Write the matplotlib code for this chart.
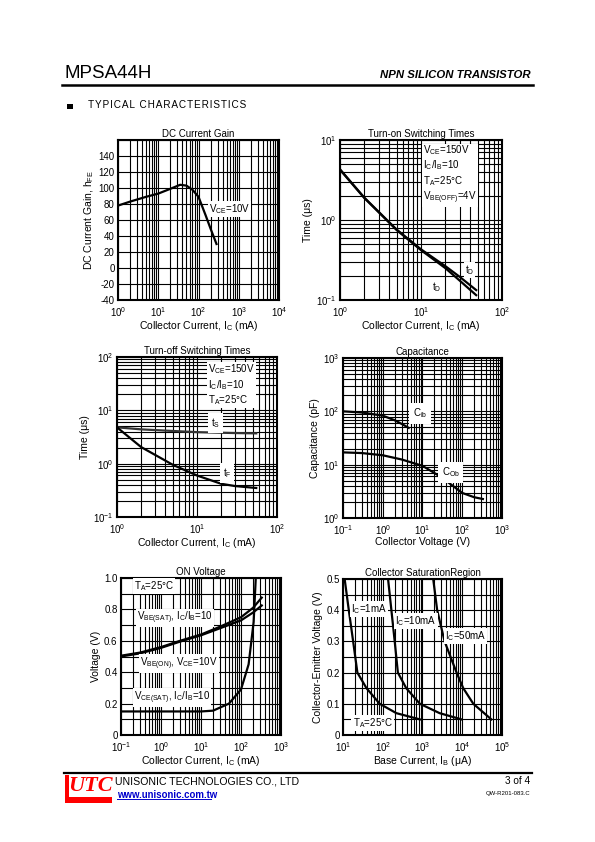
import matplotlib
matplotlib.use('Agg')
import matplotlib.pyplot as plt
from matplotlib.ticker import LogLocator, NullFormatter, FixedLocator, FixedFormatter
from matplotlib.patches import Rectangle

plt.rcParams['font.family'] = ['Liberation Sans', 'DejaVu Sans']
plt.rcParams['mathtext.fontset'] = 'custom'
plt.rcParams['mathtext.rm'] = 'Liberation Sans'
plt.rcParams['mathtext.it'] = 'Liberation Sans:italic'
plt.rcParams['mathtext.bf'] = 'Liberation Sans:bold'

# ---------------- data ----------------
# DC current gain
hfe_ic = [1, 2, 5, 10, 20, 35, 50, 70, 100, 150, 200, 280]
hfe_val = [78, 83, 89, 93, 99, 104, 103, 98, 89, 66, 49, 30]

# Turn-on switching times
ton_ic = [1, 2, 5, 10, 20, 30, 48]
ton_td_upper = [4.3, 1.9, 0.76, 0.43, 0.265, 0.195, 0.133]
ton_td_lower = [4.25, 1.88, 0.75, 0.42, 0.25, 0.175, 0.115]

# Turn-off switching times
toff_ic = [1, 2, 5, 10, 20, 30, 55]
toff_ts = [4.8, 4.4, 4.1, 3.9, 3.8, 3.75, 3.7]
toff_tf = [4.8, 2.05, 0.95, 0.6, 0.42, 0.38, 0.35]

# Capacitance
cib_v = [0.1, 0.3, 1, 2, 3, 4.5]
cib_val = [100, 95, 83, 68, 58, 49]
cob_v = [0.1, 0.3, 1, 3, 10, 30, 100, 200, 330]
cob_val = [17, 16.5, 15, 12.5, 9.5, 5.8, 2.95, 2.45, 2.27]

# ON voltage
on_ic = [0.1, 0.3, 1, 3, 10, 30, 100, 200, 330]
vbe_sat = [0.505, 0.525, 0.56, 0.6, 0.64, 0.69, 0.75, 0.81, 0.875]
vbe_on = [0.5, 0.52, 0.555, 0.595, 0.635, 0.68, 0.73, 0.78, 0.825]
vcesat_ic = [0.1, 1, 10, 20, 50, 100, 155, 207, 234]
vcesat_val = [0.15, 0.15, 0.15, 0.155, 0.2, 0.29, 0.45, 0.72, 1.0]

# Collector saturation region
ib_1ma = [11, 14, 18, 23, 39, 84, 220, 860]
vce_1ma = [0.5, 0.4, 0.3, 0.2, 0.15, 0.1, 0.07, 0.05]
ib_10ma = [136, 165, 200, 240, 390, 860, 2700, 9600]
vce_10ma = [0.5, 0.4, 0.3, 0.2, 0.15, 0.1, 0.07, 0.05]
ib_50ma = [1860, 2340, 3600, 7200, 10600, 19000, 54000]
vce_50ma = [0.5, 0.4, 0.3, 0.2, 0.15, 0.1, 0.05]

# ---------------- figure ----------------
W, H = 595, 842
fig = plt.figure(figsize=(W / 100, H / 100), dpi=100)

def make_ax(x0, y0, x1, y1):
    return fig.add_axes([x0 / W, 1 - y1 / H, (x1 - x0) / W, (y1 - y0) / H])

def ftext(x, y, s, **kw):
    return fig.text(x / W, 1 - y / H, s, **kw)

LW_GRID = 0.8
LW_CURVE = 1.6
FS = 7

def log_axis(axis, lo, hi):
    ticks = [10.0 ** k for k in range(lo, hi + 1)]
    axis.set_major_locator(FixedLocator(ticks))
    axis.set_major_formatter(FixedFormatter([r'$\mathregular{10^{%d}}$' % k for k in range(lo, hi + 1)]))
    axis.set_minor_locator(LogLocator(base=10, subs=range(2, 10), numticks=100))
    axis.set_minor_formatter(NullFormatter())

def style(ax, title, xlabel, ylabel):
    for s in ax.spines.values():
        s.set_linewidth(1.5)
    ax.tick_params(which='both', length=0, labelsize=FS)
    ax.tick_params(axis='x', pad=3.5)
    ax.tick_params(axis='y', pad=2.5)
    ax.grid(which='both', color='black', linewidth=LW_GRID)
    ax.set_axisbelow(True)
    ax.set_title(title, fontsize=FS, pad=2)
    ax.set_xlabel(xlabel, fontsize=FS + 0.5, labelpad=0.5)
    ax.set_ylabel(ylabel, fontsize=FS + 0.5, labelpad=2)

box = dict(facecolor='white', edgecolor='none', pad=0.8)
box2 = dict(facecolor='white', edgecolor='none', pad=2.2)
DEG = '°C'

# Panel 1: DC current gain
ax1 = make_ax(118, 140, 279, 300)
ax1.set_xscale('log')
ax1.set_xlim(1, 1e4)
ax1.set_ylim(-40, 160)
log_axis(ax1.xaxis, 0, 4)
ax1.yaxis.set_major_locator(FixedLocator(list(range(-40, 161, 20))))
ax1.yaxis.set_major_formatter(FixedFormatter([str(v) for v in range(-40, 141, 20)] + ['']))
ax1.plot(hfe_ic, hfe_val, color='black', lw=LW_CURVE)
ax1.text(0.565, 0.57, r'V$_{\mathrm{CE}}$=10V', fontsize=FS, transform=ax1.transAxes,
         bbox=box, va='center', ha='left')
style(ax1, 'DC Current Gain', r'Collector Current, I$_{\mathrm{C}}$ (mA)', r'DC Current Gain, h$_{\mathrm{FE}}$')

# Panel 2: Turn-on switching times
ax2 = make_ax(340, 140, 502, 300)
ax2.set_xscale('log'); ax2.set_yscale('log')
ax2.set_xlim(1, 100); ax2.set_ylim(0.1, 10)
log_axis(ax2.xaxis, 0, 2); log_axis(ax2.yaxis, -1, 1)
ax2.plot(ton_ic, ton_td_upper, color='black', lw=LW_CURVE)
ax2.plot(ton_ic, ton_td_lower, color='black', lw=LW_CURVE)
ax2.text(0.515, 0.98,
         'V$_{\\mathrm{CE}}$=150V\nI$_{\\mathrm{C}}$/I$_{\\mathrm{B}}$=10\nT$_{\\mathrm{A}}$=25' + DEG + '\nV$_{\\mathrm{BE(OFF)}}$=4V',
         transform=ax2.transAxes, fontsize=FS, va='top', ha='left', linespacing=1.15, bbox=box)
ax2.text(0.77, 0.19, r't$_{\mathrm{D}}$', transform=ax2.transAxes, fontsize=FS, bbox=box, va='center')
ax2.text(0.57, 0.08, r't$_{\mathrm{D}}$', transform=ax2.transAxes, fontsize=FS, va='center')
style(ax2, 'Turn-on Switching Times', r'Collector Current, I$_{\mathrm{C}}$ (mA)', 'Time (μs)')

# Panel 3: Turn-off switching times
ax3 = make_ax(117, 357, 277, 517)
ax3.set_xscale('log'); ax3.set_yscale('log')
ax3.set_xlim(1, 100); ax3.set_ylim(0.1, 100)
log_axis(ax3.xaxis, 0, 2); log_axis(ax3.yaxis, -1, 2)
ax3.plot(toff_ic, toff_ts, color='#333333', lw=LW_CURVE)
ax3.plot(toff_ic, toff_tf, color='black', lw=LW_CURVE)
ax3.text(0.57, 0.965,
         'V$_{\\mathrm{CE}}$=150V\nI$_{\\mathrm{C}}$/I$_{\\mathrm{B}}$=10\nT$_{\\mathrm{A}}$=25' + DEG,
         transform=ax3.transAxes, fontsize=FS, va='top', ha='left', linespacing=1.15, bbox=box)
ax3.text(0.59, 0.585, r't$_{\mathrm{S}}$', transform=ax3.transAxes, fontsize=FS, va='center', bbox=box2)
ax3.text(0.66, 0.275, r't$_{\mathrm{F}}$', transform=ax3.transAxes, fontsize=FS, va='center', bbox=box2)
style(ax3, 'Turn-off Switching Times', r'Collector Current, I$_{\mathrm{C}}$ (mA)', 'Time (μs)')

# Panel 4: Capacitance
ax4 = make_ax(343, 358, 502, 518)
ax4.set_xscale('log'); ax4.set_yscale('log')
ax4.set_xlim(0.1, 1000); ax4.set_ylim(1, 1000)
log_axis(ax4.xaxis, -1, 3); log_axis(ax4.yaxis, 0, 3)
ax4.plot(cib_v, cib_val, color='black', lw=LW_CURVE)
ax4.plot(cob_v, cob_val, color='black', lw=LW_CURVE)
ax4.text(0.44, 0.655, r'C$_{\mathrm{ib}}$', transform=ax4.transAxes, fontsize=FS, va='center',
         bbox=dict(facecolor='white', edgecolor='none', pad=2.5))
ax4.text(0.62, 0.285, r'C$_{\mathrm{Ob}}$', transform=ax4.transAxes, fontsize=FS, va='center',
         bbox=dict(facecolor='white', edgecolor='none', pad=2.5))
style(ax4, 'Capacitance', 'Collector Voltage (V)', 'Capacitance (pF)')

# Panel 5: ON voltage
ax5 = make_ax(121, 578, 281, 735)
ax5.set_xscale('log')
ax5.set_xlim(0.1, 1000); ax5.set_ylim(0, 1.0)
log_axis(ax5.xaxis, -1, 3)
ax5.yaxis.set_major_locator(FixedLocator([0, 0.2, 0.4, 0.6, 0.8, 1.0]))
ax5.yaxis.set_major_formatter(FixedFormatter(['0', '0.2', '0.4', '0.6', '0.8', '1.0']))
ax5.yaxis.set_minor_locator(FixedLocator([0.1, 0.3, 0.5, 0.7, 0.9]))
ax5.plot(on_ic, vbe_sat, color='black', lw=LW_CURVE)
ax5.plot(on_ic, vbe_on, color='black', lw=LW_CURVE)
ax5.plot(vcesat_ic, vcesat_val, color='black', lw=LW_CURVE)
ax5.text(0.08, 0.95, 'T$_{\\mathrm{A}}$=25' + DEG, transform=ax5.transAxes, fontsize=FS, va='center', bbox=box)
ax5.text(0.1, 0.745, r'V$_{\mathrm{BE(SAT)}}$, I$_{\mathrm{C}}$/I$_{\mathrm{B}}$=10', transform=ax5.transAxes,
         fontsize=FS, va='center', bbox=box)
ax5.text(0.12, 0.455, r'V$_{\mathrm{BE(ON)}}$, V$_{\mathrm{CE}}$=10V', transform=ax5.transAxes,
         fontsize=FS, va='center', bbox=box)
ax5.text(0.08, 0.24, r'V$_{\mathrm{CE(SAT)}}$, I$_{\mathrm{C}}$/I$_{\mathrm{B}}$=10', transform=ax5.transAxes,
         fontsize=FS, va='center', bbox=box)
style(ax5, 'ON Voltage', r'Collector Current, I$_{\mathrm{C}}$ (mA)', 'Voltage (V)')

# Panel 6: Collector saturation region
ax6 = make_ax(343, 579, 502, 735)
ax6.set_xscale('log')
ax6.set_xlim(10, 1e5); ax6.set_ylim(0, 0.5)
log_axis(ax6.xaxis, 1, 5)
ax6.yaxis.set_major_locator(FixedLocator([0, 0.1, 0.2, 0.3, 0.4, 0.5]))
ax6.yaxis.set_major_formatter(FixedFormatter(['0', '0.1', '0.2', '0.3', '0.4', '0.5']))
ax6.yaxis.set_minor_locator(FixedLocator([0.05, 0.15, 0.25, 0.35, 0.45]))
ax6.plot(ib_1ma, vce_1ma, color='black', lw=LW_CURVE)
ax6.plot(ib_10ma, vce_10ma, color='black', lw=LW_CURVE)
ax6.plot(ib_50ma, vce_50ma, color='black', lw=LW_CURVE)
ax6.text(0.05, 0.805, r'I$_{\mathrm{C}}$=1mA', transform=ax6.transAxes, fontsize=FS, va='center', bbox=box)
ax6.text(0.33, 0.73, r'I$_{\mathrm{C}}$=10mA', transform=ax6.transAxes, fontsize=FS, va='center', bbox=box)
ax6.text(0.64, 0.635, r'I$_{\mathrm{C}}$=50mA', transform=ax6.transAxes, fontsize=FS, va='center', bbox=box)
ax6.text(0.06, 0.075, 'T$_{\\mathrm{A}}$=25' + DEG, transform=ax6.transAxes, fontsize=FS, va='center', bbox=box)
style(ax6, 'Collector SaturationRegion', r'Base Current, I$_{\mathrm{B}}$ (μA)', 'Collector-Emitter Voltage (V)')

# ---------------- header ----------------
ftext(64, 74, 'MPSA44H', fontsize=13.5, va='center', ha='left')
ftext(531, 75, 'NPN SILICON TRANSISTOR', fontsize=8.2, fontweight='bold', fontstyle='italic',
      va='center', ha='right')
fig.add_artist(plt.Line2D([62 / W, 533 / W], [1 - 84.5 / H, 1 - 84.5 / H], color='black', lw=1.8))
fig.add_artist(Rectangle((67 / W, 1 - 109 / H), 5.5 / W, 5.5 / H, facecolor='black', edgecolor='none'))
ftext(88, 105.5, '\u200a'.join('TYPICAL CHARACTERISTICS'), fontsize=7.2, va='center', ha='left')

# ---------------- footer ----------------
fig.add_artist(plt.Line2D([64 / W, 532 / W], [1 - 773 / H, 1 - 773 / H], color='black', lw=1.6))
fig.add_artist(Rectangle((65 / W, 1 - 803 / H), 47 / W, 28 / H, facecolor='#ff0000', edgecolor='none'))
fig.add_artist(Rectangle((68.5 / W, 1 - 797 / H), 43.5 / W, 22 / H, facecolor='white', edgecolor='none'))
ftext(90, 786, 'UTC', fontsize=16, color='#ff0000', family='Liberation Serif', fontstyle='italic',
      fontweight='bold', va='center', ha='center')
ftext(115, 781, 'UNISONIC TECHNOLOGIES CO., LTD', fontsize=7.6, va='center', ha='left')
ftext(117, 794.5, 'www.unisonic.com.tw', fontsize=6.9, fontweight='bold', color='#0000cc',
      va='center', ha='left')
fig.add_artist(plt.Line2D([117 / W, 211 / W], [1 - 799 / H, 1 - 799 / H], color='#0000cc', lw=0.7))
ftext(530, 781, '3 of 4', fontsize=7.2, va='center', ha='right')
ftext(530, 794, 'QW-R201-083.C', fontsize=4.3, va='center', ha='right')

fig.savefig('out.png', dpi=100)
